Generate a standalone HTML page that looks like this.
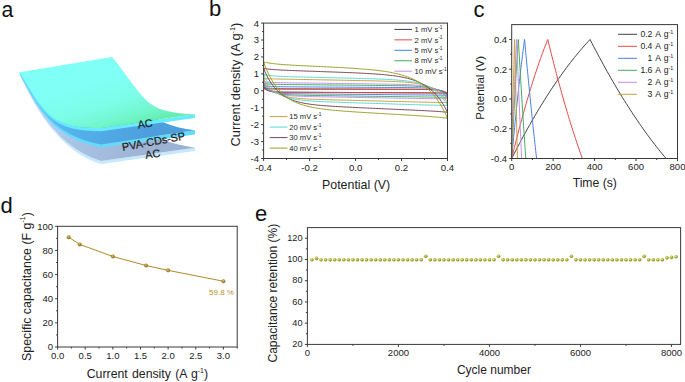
<!DOCTYPE html>
<html><head><meta charset="utf-8"><style>
html,body{margin:0;padding:0;background:#fff;}
svg{display:block;}
text{font-family:"Liberation Sans", sans-serif;}
</style></head><body>
<svg width="685" height="382" viewBox="0 0 685 382" shape-rendering="auto">
<rect width="685" height="382" fill="#fff"/>
<defs>
<linearGradient id="topg" gradientUnits="userSpaceOnUse" x1="95" y1="80" x2="110" y2="132">
 <stop offset="0" stop-color="#80fff6"/><stop offset="0.5" stop-color="#7cfde8"/><stop offset="0.82" stop-color="#72f6cc"/><stop offset="1" stop-color="#66eeb2"/></linearGradient>
<linearGradient id="midg" gradientUnits="userSpaceOnUse" x1="40" y1="100" x2="150" y2="140">
 <stop offset="0" stop-color="#58c6f8"/><stop offset="0.4" stop-color="#54b0ea"/><stop offset="1" stop-color="#4c9edc"/></linearGradient>
<linearGradient id="botg" gradientUnits="userSpaceOnUse" x1="40" y1="110" x2="150" y2="155">
 <stop offset="0" stop-color="#b8d4f6"/><stop offset="0.4" stop-color="#a8c2e4"/><stop offset="1" stop-color="#9cb2d2"/></linearGradient>
</defs><path d="M19.5,74.3 C25,84 50.3,149.1 101,164 L195,151.1 L195,147.8 L101,161.1 C48.8,144.6 28,89.4 19.5,74 Z" fill="#c6e8fc"/><path d="M19.5,74 L112,62 C130,95 145,128 157,138.1 C170,143 183,146 195,147.8 L101,161.1 C48.8,144.6 28,89.4 19.5,74 Z" fill="url(#botg)"/><path d="M19.5,73.8 C37.5,108 52,138 101,147.4 L195,134.5 L195,130.2 L101,144.5 C52,135.2 37.8,106.6 19.5,73.5 Z" fill="#62dcfd"/><path d="M19.5,73.5 L112,60 C130,88 145,112 162.5,122 C172,126 183,129 195,130.2 L101,144.5 C52,135.2 37.8,106.6 19.5,73.5 Z" fill="url(#midg)"/><path d="M19.5,73 C44.5,117.2 53.5,130.9 101,131.3 L195,118 L195,114.3 L101,127.9 C51.9,129 44.4,113.9 19.5,72.3 Z" fill="#68eaff"/><path d="M19.5,72.3 L112,57 C122,68 134,88 146,100 C156,109 166,113 195,114.3 L101,127.9 C51.9,129 44.4,113.9 19.5,72.3 Z" fill="url(#topg)"/><text transform="translate(145.6,127.5) rotate(-8.5)" font-size="10.8" text-anchor="middle" fill="#1e1e1e" stroke="#1e1e1e" stroke-width="0.25">AC</text><text transform="translate(154.2,145.2) rotate(-10.5)" font-size="10.9" text-anchor="middle" fill="#1e1e1e" stroke="#1e1e1e" stroke-width="0.25">PVA-CDs-SP</text><text transform="translate(153.2,157.6) rotate(-8.5)" font-size="10.8" text-anchor="middle" fill="#1e1e1e" stroke="#1e1e1e" stroke-width="0.25">AC</text>
<text x="1.60" y="16.80" font-size="21.2" text-anchor="start" fill="#111" >a</text>
<text x="209.00" y="16.20" font-size="22" text-anchor="start" fill="#111" >b</text>
<text x="473.40" y="16.80" font-size="22" text-anchor="start" fill="#111" >c</text>
<text x="0.50" y="212.80" font-size="22" text-anchor="start" fill="#111" >d</text>
<text x="255.00" y="221.20" font-size="22" text-anchor="start" fill="#111" >e</text>
<g fill="none" stroke-width="1">
<path d="M263.60,88.09 L265.13,88.30 L266.67,88.46 L268.20,88.57 L269.73,88.65 L271.26,88.71 L272.80,88.75 L274.33,88.79 L275.86,88.81 L277.39,88.83 L278.93,88.84 L280.46,88.86 L281.99,88.87 L283.52,88.88 L285.06,88.88 L286.59,88.89 L288.12,88.90 L289.65,88.90 L291.19,88.91 L292.72,88.91 L294.25,88.92 L295.78,88.92 L297.31,88.93 L298.85,88.93 L300.38,88.94 L301.91,88.94 L303.45,88.95 L304.98,88.95 L306.51,88.96 L308.04,88.96 L309.58,88.97 L311.11,88.97 L312.64,88.97 L314.17,88.98 L315.71,88.98 L317.24,88.99 L318.77,88.99 L320.30,89.00 L321.84,89.00 L323.37,89.01 L324.90,89.01 L326.43,89.02 L327.97,89.02 L329.50,89.03 L331.03,89.03 L332.56,89.04 L334.10,89.04 L335.63,89.05 L337.16,89.05 L338.69,89.06 L340.23,89.06 L341.76,89.06 L343.29,89.07 L344.82,89.07 L346.36,89.08 L347.89,89.08 L349.42,89.09 L350.95,89.09 L352.49,89.10 L354.02,89.10 L355.55,89.11 L357.08,89.11 L358.62,89.12 L360.15,89.12 L361.68,89.13 L363.21,89.13 L364.75,89.14 L366.28,89.14 L367.81,89.15 L369.34,89.15 L370.88,89.15 L372.41,89.16 L373.94,89.16 L375.47,89.17 L377.00,89.17 L378.54,89.18 L380.07,89.18 L381.60,89.19 L383.13,89.19 L384.67,89.20 L386.20,89.20 L387.73,89.21 L389.26,89.21 L390.80,89.22 L392.33,89.22 L393.86,89.23 L395.39,89.23 L396.93,89.24 L398.46,89.24 L399.99,89.25 L401.52,89.25 L403.06,89.26 L404.59,89.26 L406.12,89.27 L407.65,89.27 L409.19,89.28 L410.72,89.28 L412.25,89.29 L413.79,89.30 L415.32,89.31 L416.85,89.32 L418.38,89.33 L419.91,89.34 L421.45,89.36 L422.98,89.37 L424.51,89.40 L426.05,89.42 L427.58,89.46 L429.11,89.50 L430.64,89.56 L432.17,89.63 L433.71,89.72 L435.24,89.84 L436.77,90.00 L438.31,90.19 L439.84,90.45 L441.37,90.79 L442.90,91.23 L444.44,91.80 L445.97,92.54 L447.50,93.51 L447.50,93.51 L445.97,93.33 L444.44,93.20 L442.90,93.10 L441.37,93.03 L439.84,92.98 L438.31,92.94 L436.77,92.91 L435.24,92.89 L433.71,92.87 L432.18,92.85 L430.64,92.84 L429.11,92.83 L427.58,92.82 L426.05,92.81 L424.51,92.80 L422.98,92.79 L421.45,92.79 L419.91,92.78 L418.38,92.77 L416.85,92.76 L415.32,92.76 L413.78,92.75 L412.25,92.74 L410.72,92.74 L409.19,92.73 L407.65,92.72 L406.12,92.72 L404.59,92.71 L403.06,92.70 L401.53,92.70 L399.99,92.69 L398.46,92.68 L396.93,92.68 L395.39,92.67 L393.86,92.66 L392.33,92.65 L390.80,92.65 L389.26,92.64 L387.73,92.63 L386.20,92.63 L384.67,92.62 L383.13,92.61 L381.60,92.61 L380.07,92.60 L378.54,92.59 L377.00,92.59 L375.47,92.58 L373.94,92.57 L372.41,92.57 L370.88,92.56 L369.34,92.55 L367.81,92.55 L366.28,92.54 L364.75,92.53 L363.21,92.53 L361.68,92.52 L360.15,92.51 L358.62,92.51 L357.08,92.50 L355.55,92.49 L354.02,92.49 L352.49,92.48 L350.95,92.47 L349.42,92.47 L347.89,92.46 L346.36,92.45 L344.82,92.45 L343.29,92.44 L341.76,92.43 L340.23,92.42 L338.69,92.42 L337.16,92.41 L335.63,92.40 L334.10,92.40 L332.56,92.39 L331.03,92.38 L329.50,92.38 L327.97,92.37 L326.43,92.36 L324.90,92.36 L323.37,92.35 L321.83,92.34 L320.30,92.34 L318.77,92.33 L317.24,92.32 L315.71,92.32 L314.17,92.31 L312.64,92.30 L311.11,92.30 L309.58,92.29 L308.04,92.28 L306.51,92.28 L304.98,92.27 L303.45,92.26 L301.91,92.25 L300.38,92.25 L298.85,92.24 L297.31,92.23 L295.78,92.22 L294.25,92.22 L292.72,92.21 L291.19,92.20 L289.65,92.19 L288.12,92.18 L286.59,92.16 L285.06,92.14 L283.52,92.12 L281.99,92.09 L280.46,92.06 L278.93,92.01 L277.39,91.95 L275.86,91.86 L274.33,91.75 L272.80,91.59 L271.26,91.37 L269.73,91.06 L268.20,90.64 L266.67,90.05 L265.13,89.23 L263.60,88.09" stroke="#3a3a4a"/>
<path d="M263.60,87.25 L265.13,87.75 L266.67,88.12 L268.20,88.38 L269.73,88.57 L271.26,88.71 L272.80,88.81 L274.33,88.88 L275.86,88.93 L277.39,88.97 L278.93,89.00 L280.46,89.02 L281.99,89.04 L283.52,89.05 L285.06,89.06 L286.59,89.07 L288.12,89.08 L289.65,89.09 L291.19,89.09 L292.72,89.10 L294.25,89.10 L295.78,89.11 L297.31,89.11 L298.85,89.12 L300.38,89.12 L301.91,89.13 L303.45,89.13 L304.98,89.14 L306.51,89.14 L308.04,89.14 L309.58,89.15 L311.11,89.15 L312.64,89.16 L314.17,89.16 L315.71,89.17 L317.24,89.17 L318.77,89.17 L320.30,89.18 L321.84,89.18 L323.37,89.19 L324.90,89.19 L326.43,89.20 L327.97,89.20 L329.50,89.20 L331.03,89.21 L332.56,89.21 L334.10,89.22 L335.63,89.22 L337.16,89.23 L338.69,89.23 L340.23,89.23 L341.76,89.24 L343.29,89.24 L344.82,89.25 L346.36,89.25 L347.89,89.26 L349.42,89.26 L350.95,89.26 L352.49,89.27 L354.02,89.27 L355.55,89.28 L357.08,89.28 L358.62,89.29 L360.15,89.29 L361.68,89.29 L363.21,89.30 L364.75,89.30 L366.28,89.31 L367.81,89.31 L369.34,89.32 L370.88,89.32 L372.41,89.32 L373.94,89.33 L375.47,89.33 L377.00,89.34 L378.54,89.34 L380.07,89.35 L381.60,89.35 L383.13,89.35 L384.67,89.36 L386.20,89.36 L387.73,89.37 L389.26,89.37 L390.80,89.38 L392.33,89.38 L393.86,89.38 L395.39,89.39 L396.93,89.39 L398.46,89.40 L399.99,89.40 L401.52,89.41 L403.06,89.41 L404.59,89.42 L406.12,89.42 L407.65,89.43 L409.19,89.43 L410.72,89.44 L412.25,89.44 L413.79,89.45 L415.32,89.46 L416.85,89.46 L418.38,89.47 L419.91,89.48 L421.45,89.50 L422.98,89.51 L424.51,89.53 L426.05,89.56 L427.58,89.59 L429.11,89.62 L430.64,89.67 L432.17,89.73 L433.71,89.81 L435.24,89.91 L436.77,90.04 L438.31,90.21 L439.84,90.43 L441.37,90.71 L442.90,91.08 L444.44,91.56 L445.97,92.18 L447.50,93.00 L447.50,93.00 L445.97,93.02 L444.44,93.04 L442.90,93.05 L441.37,93.05 L439.84,93.05 L438.31,93.05 L436.77,93.05 L435.24,93.04 L433.71,93.04 L432.18,93.03 L430.64,93.02 L429.11,93.02 L427.58,93.01 L426.05,93.00 L424.51,93.00 L422.98,92.99 L421.45,92.98 L419.91,92.97 L418.38,92.97 L416.85,92.96 L415.32,92.95 L413.78,92.94 L412.25,92.94 L410.72,92.93 L409.19,92.92 L407.65,92.91 L406.12,92.91 L404.59,92.90 L403.06,92.89 L401.53,92.89 L399.99,92.88 L398.46,92.87 L396.93,92.86 L395.39,92.86 L393.86,92.85 L392.33,92.84 L390.80,92.83 L389.26,92.83 L387.73,92.82 L386.20,92.81 L384.67,92.80 L383.13,92.80 L381.60,92.79 L380.07,92.78 L378.54,92.77 L377.00,92.77 L375.47,92.76 L373.94,92.75 L372.41,92.74 L370.88,92.74 L369.34,92.73 L367.81,92.72 L366.28,92.71 L364.75,92.71 L363.21,92.70 L361.68,92.69 L360.15,92.68 L358.62,92.68 L357.08,92.67 L355.55,92.66 L354.02,92.65 L352.49,92.65 L350.95,92.64 L349.42,92.63 L347.89,92.62 L346.36,92.62 L344.82,92.61 L343.29,92.60 L341.76,92.59 L340.23,92.59 L338.69,92.58 L337.16,92.57 L335.63,92.56 L334.10,92.56 L332.56,92.55 L331.03,92.54 L329.50,92.54 L327.97,92.53 L326.43,92.52 L324.90,92.51 L323.37,92.51 L321.83,92.50 L320.30,92.49 L318.77,92.48 L317.24,92.48 L315.71,92.47 L314.17,92.46 L312.64,92.45 L311.11,92.45 L309.58,92.44 L308.04,92.43 L306.51,92.42 L304.98,92.42 L303.45,92.41 L301.91,92.40 L300.38,92.39 L298.85,92.38 L297.31,92.38 L295.78,92.37 L294.25,92.36 L292.72,92.35 L291.19,92.34 L289.65,92.32 L288.12,92.31 L286.59,92.29 L285.06,92.27 L283.52,92.25 L281.99,92.21 L280.46,92.17 L278.93,92.11 L277.39,92.03 L275.86,91.93 L274.33,91.79 L272.80,91.59 L271.26,91.31 L269.73,90.93 L268.20,90.41 L266.67,89.68 L265.13,88.66 L263.60,87.25" stroke="#e84a46"/>
<path d="M263.60,85.55 L265.13,85.87 L266.67,86.11 L268.20,86.28 L269.73,86.40 L271.26,86.49 L272.80,86.56 L274.33,86.61 L275.86,86.65 L277.39,86.68 L278.93,86.71 L280.46,86.73 L281.99,86.75 L283.52,86.76 L285.06,86.78 L286.59,86.79 L288.12,86.80 L289.65,86.81 L291.19,86.83 L292.72,86.84 L294.25,86.85 L295.78,86.86 L297.31,86.87 L298.85,86.88 L300.38,86.89 L301.91,86.90 L303.45,86.91 L304.98,86.92 L306.51,86.93 L308.04,86.94 L309.58,86.95 L311.11,86.96 L312.64,86.97 L314.17,86.98 L315.71,86.99 L317.24,87.00 L318.77,87.01 L320.30,87.02 L321.84,87.03 L323.37,87.04 L324.90,87.05 L326.43,87.06 L327.97,87.07 L329.50,87.08 L331.03,87.09 L332.56,87.10 L334.10,87.11 L335.63,87.12 L337.16,87.13 L338.69,87.14 L340.23,87.15 L341.76,87.16 L343.29,87.17 L344.82,87.18 L346.36,87.19 L347.89,87.20 L349.42,87.21 L350.95,87.22 L352.49,87.23 L354.02,87.24 L355.55,87.25 L357.08,87.26 L358.62,87.27 L360.15,87.28 L361.68,87.29 L363.21,87.30 L364.75,87.31 L366.28,87.32 L367.81,87.33 L369.34,87.34 L370.88,87.35 L372.41,87.36 L373.94,87.37 L375.47,87.38 L377.00,87.39 L378.54,87.40 L380.07,87.41 L381.60,87.42 L383.13,87.43 L384.67,87.44 L386.20,87.45 L387.73,87.46 L389.26,87.47 L390.80,87.48 L392.33,87.49 L393.86,87.50 L395.39,87.51 L396.93,87.52 L398.46,87.53 L399.99,87.55 L401.52,87.56 L403.06,87.57 L404.59,87.59 L406.12,87.60 L407.65,87.62 L409.19,87.63 L410.72,87.65 L412.25,87.67 L413.79,87.70 L415.32,87.72 L416.85,87.76 L418.38,87.79 L419.91,87.83 L421.45,87.88 L422.98,87.94 L424.51,88.01 L426.05,88.10 L427.58,88.20 L429.11,88.32 L430.64,88.47 L432.17,88.65 L433.71,88.87 L435.24,89.14 L436.77,89.47 L438.31,89.88 L439.84,90.37 L441.37,90.99 L442.90,91.74 L444.44,92.66 L445.97,93.80 L447.50,95.20 L447.50,95.20 L445.97,95.19 L444.44,95.18 L442.90,95.16 L441.37,95.15 L439.84,95.13 L438.31,95.12 L436.77,95.11 L435.24,95.09 L433.71,95.08 L432.18,95.06 L430.64,95.05 L429.11,95.04 L427.58,95.02 L426.05,95.01 L424.51,94.99 L422.98,94.98 L421.45,94.97 L419.91,94.95 L418.38,94.94 L416.85,94.92 L415.32,94.91 L413.78,94.89 L412.25,94.88 L410.72,94.87 L409.19,94.85 L407.65,94.84 L406.12,94.82 L404.59,94.81 L403.06,94.79 L401.53,94.78 L399.99,94.77 L398.46,94.75 L396.93,94.74 L395.39,94.72 L393.86,94.71 L392.33,94.70 L390.80,94.68 L389.26,94.67 L387.73,94.65 L386.20,94.64 L384.67,94.62 L383.13,94.61 L381.60,94.60 L380.07,94.58 L378.54,94.57 L377.00,94.55 L375.47,94.54 L373.94,94.52 L372.41,94.51 L370.88,94.50 L369.34,94.48 L367.81,94.47 L366.28,94.45 L364.75,94.44 L363.21,94.43 L361.68,94.41 L360.15,94.40 L358.62,94.38 L357.08,94.37 L355.55,94.35 L354.02,94.34 L352.49,94.33 L350.95,94.31 L349.42,94.30 L347.89,94.28 L346.36,94.27 L344.82,94.25 L343.29,94.24 L341.76,94.23 L340.23,94.21 L338.69,94.20 L337.16,94.18 L335.63,94.17 L334.10,94.16 L332.56,94.14 L331.03,94.13 L329.50,94.11 L327.97,94.10 L326.43,94.08 L324.90,94.07 L323.37,94.06 L321.83,94.04 L320.30,94.03 L318.77,94.01 L317.24,94.00 L315.71,93.98 L314.17,93.97 L312.64,93.95 L311.11,93.94 L309.58,93.92 L308.04,93.91 L306.51,93.89 L304.98,93.88 L303.45,93.86 L301.91,93.85 L300.38,93.83 L298.85,93.81 L297.31,93.79 L295.78,93.77 L294.25,93.74 L292.72,93.72 L291.19,93.69 L289.65,93.65 L288.12,93.61 L286.59,93.56 L285.06,93.50 L283.52,93.42 L281.99,93.33 L280.46,93.21 L278.93,93.06 L277.39,92.88 L275.86,92.64 L274.33,92.33 L272.80,91.94 L271.26,91.43 L269.73,90.77 L268.20,89.92 L266.67,88.82 L265.13,87.40 L263.60,85.55" stroke="#4a80e0"/>
<path d="M263.60,83.35 L265.13,83.61 L266.67,83.80 L268.20,83.95 L269.73,84.06 L271.26,84.15 L272.80,84.22 L274.33,84.27 L275.86,84.32 L277.39,84.35 L278.93,84.39 L280.46,84.41 L281.99,84.44 L283.52,84.46 L285.06,84.48 L286.59,84.50 L288.12,84.52 L289.65,84.54 L291.19,84.55 L292.72,84.57 L294.25,84.59 L295.78,84.60 L297.31,84.62 L298.85,84.64 L300.38,84.65 L301.91,84.67 L303.45,84.68 L304.98,84.70 L306.51,84.71 L308.04,84.73 L309.58,84.75 L311.11,84.76 L312.64,84.78 L314.17,84.79 L315.71,84.81 L317.24,84.82 L318.77,84.84 L320.30,84.86 L321.84,84.87 L323.37,84.89 L324.90,84.90 L326.43,84.92 L327.97,84.93 L329.50,84.95 L331.03,84.96 L332.56,84.98 L334.10,85.00 L335.63,85.01 L337.16,85.03 L338.69,85.04 L340.23,85.06 L341.76,85.07 L343.29,85.09 L344.82,85.11 L346.36,85.12 L347.89,85.14 L349.42,85.15 L350.95,85.17 L352.49,85.18 L354.02,85.20 L355.55,85.22 L357.08,85.23 L358.62,85.25 L360.15,85.26 L361.68,85.28 L363.21,85.29 L364.75,85.31 L366.28,85.33 L367.81,85.34 L369.34,85.36 L370.88,85.37 L372.41,85.39 L373.94,85.41 L375.47,85.42 L377.00,85.44 L378.54,85.46 L380.07,85.47 L381.60,85.49 L383.13,85.51 L384.67,85.52 L386.20,85.54 L387.73,85.56 L389.26,85.58 L390.80,85.60 L392.33,85.62 L393.86,85.64 L395.39,85.66 L396.93,85.68 L398.46,85.71 L399.99,85.73 L401.52,85.76 L403.06,85.79 L404.59,85.82 L406.12,85.86 L407.65,85.90 L409.19,85.94 L410.72,85.99 L412.25,86.04 L413.79,86.10 L415.32,86.17 L416.85,86.25 L418.38,86.34 L419.91,86.44 L421.45,86.56 L422.98,86.70 L424.51,86.86 L426.05,87.04 L427.58,87.26 L429.11,87.51 L430.64,87.80 L432.17,88.14 L433.71,88.55 L435.24,89.02 L436.77,89.57 L438.31,90.22 L439.84,90.99 L441.37,91.89 L442.90,92.95 L444.44,94.20 L445.97,95.67 L447.50,97.40 L447.50,97.40 L445.97,97.36 L444.44,97.32 L442.90,97.29 L441.37,97.26 L439.84,97.23 L438.31,97.20 L436.77,97.18 L435.24,97.15 L433.71,97.13 L432.18,97.10 L430.64,97.08 L429.11,97.06 L427.58,97.04 L426.05,97.02 L424.51,96.99 L422.98,96.97 L421.45,96.95 L419.91,96.93 L418.38,96.91 L416.85,96.89 L415.32,96.87 L413.78,96.84 L412.25,96.82 L410.72,96.80 L409.19,96.78 L407.65,96.76 L406.12,96.74 L404.59,96.72 L403.06,96.70 L401.53,96.68 L399.99,96.66 L398.46,96.63 L396.93,96.61 L395.39,96.59 L393.86,96.57 L392.33,96.55 L390.80,96.53 L389.26,96.51 L387.73,96.49 L386.20,96.47 L384.67,96.45 L383.13,96.42 L381.60,96.40 L380.07,96.38 L378.54,96.36 L377.00,96.34 L375.47,96.32 L373.94,96.30 L372.41,96.28 L370.88,96.26 L369.34,96.24 L367.81,96.21 L366.28,96.19 L364.75,96.17 L363.21,96.15 L361.68,96.13 L360.15,96.11 L358.62,96.09 L357.08,96.07 L355.55,96.05 L354.02,96.03 L352.49,96.00 L350.95,95.98 L349.42,95.96 L347.89,95.94 L346.36,95.92 L344.82,95.90 L343.29,95.88 L341.76,95.86 L340.23,95.84 L338.69,95.82 L337.16,95.79 L335.63,95.77 L334.10,95.75 L332.56,95.73 L331.03,95.71 L329.50,95.69 L327.97,95.67 L326.43,95.65 L324.90,95.62 L323.37,95.60 L321.83,95.58 L320.30,95.56 L318.77,95.54 L317.24,95.51 L315.71,95.49 L314.17,95.47 L312.64,95.44 L311.11,95.42 L309.58,95.39 L308.04,95.37 L306.51,95.34 L304.98,95.31 L303.45,95.28 L301.91,95.25 L300.38,95.21 L298.85,95.17 L297.31,95.13 L295.78,95.08 L294.25,95.03 L292.72,94.96 L291.19,94.89 L289.65,94.81 L288.12,94.71 L286.59,94.59 L285.06,94.45 L283.52,94.29 L281.99,94.09 L280.46,93.85 L278.93,93.56 L277.39,93.20 L275.86,92.77 L274.33,92.25 L272.80,91.61 L271.26,90.83 L269.73,89.88 L268.20,88.71 L266.67,87.27 L265.13,85.51 L263.60,83.35" stroke="#3fae5e"/>
<path d="M263.60,81.66 L265.13,81.88 L266.67,82.05 L268.20,82.18 L269.73,82.29 L271.26,82.38 L272.80,82.45 L274.33,82.51 L275.86,82.56 L277.39,82.60 L278.93,82.64 L280.46,82.67 L281.99,82.70 L283.52,82.73 L285.06,82.76 L286.59,82.78 L288.12,82.80 L289.65,82.83 L291.19,82.85 L292.72,82.87 L294.25,82.89 L295.78,82.91 L297.31,82.93 L298.85,82.95 L300.38,82.97 L301.91,82.99 L303.45,83.01 L304.98,83.03 L306.51,83.05 L308.04,83.07 L309.58,83.09 L311.11,83.11 L312.64,83.13 L314.17,83.15 L315.71,83.17 L317.24,83.19 L318.77,83.21 L320.30,83.23 L321.84,83.25 L323.37,83.27 L324.90,83.29 L326.43,83.31 L327.97,83.33 L329.50,83.35 L331.03,83.37 L332.56,83.39 L334.10,83.41 L335.63,83.43 L337.16,83.45 L338.69,83.47 L340.23,83.49 L341.76,83.51 L343.29,83.53 L344.82,83.55 L346.36,83.57 L347.89,83.59 L349.42,83.61 L350.95,83.63 L352.49,83.65 L354.02,83.67 L355.55,83.69 L357.08,83.71 L358.62,83.73 L360.15,83.75 L361.68,83.77 L363.21,83.80 L364.75,83.82 L366.28,83.84 L367.81,83.86 L369.34,83.88 L370.88,83.90 L372.41,83.92 L373.94,83.94 L375.47,83.96 L377.00,83.99 L378.54,84.01 L380.07,84.03 L381.60,84.05 L383.13,84.08 L384.67,84.10 L386.20,84.13 L387.73,84.15 L389.26,84.18 L390.80,84.21 L392.33,84.24 L393.86,84.27 L395.39,84.30 L396.93,84.33 L398.46,84.37 L399.99,84.41 L401.52,84.45 L403.06,84.50 L404.59,84.55 L406.12,84.60 L407.65,84.66 L409.19,84.73 L410.72,84.80 L412.25,84.89 L413.79,84.98 L415.32,85.09 L416.85,85.20 L418.38,85.34 L419.91,85.49 L421.45,85.66 L422.98,85.86 L424.51,86.09 L426.05,86.35 L427.58,86.65 L429.11,86.99 L430.64,87.39 L432.17,87.84 L433.71,88.36 L435.24,88.97 L436.77,89.66 L438.31,90.47 L439.84,91.40 L441.37,92.47 L442.90,93.72 L444.44,95.16 L445.97,96.83 L447.50,98.75 L447.50,98.75 L445.97,98.77 L444.44,98.78 L442.90,98.79 L441.37,98.78 L439.84,98.78 L438.31,98.77 L436.77,98.75 L435.24,98.73 L433.71,98.72 L432.18,98.70 L430.64,98.67 L429.11,98.65 L427.58,98.63 L426.05,98.61 L424.51,98.58 L422.98,98.56 L421.45,98.53 L419.91,98.51 L418.38,98.48 L416.85,98.45 L415.32,98.43 L413.78,98.40 L412.25,98.38 L410.72,98.35 L409.19,98.32 L407.65,98.30 L406.12,98.27 L404.59,98.25 L403.06,98.22 L401.53,98.19 L399.99,98.17 L398.46,98.14 L396.93,98.11 L395.39,98.09 L393.86,98.06 L392.33,98.03 L390.80,98.01 L389.26,97.98 L387.73,97.96 L386.20,97.93 L384.67,97.90 L383.13,97.88 L381.60,97.85 L380.07,97.82 L378.54,97.80 L377.00,97.77 L375.47,97.74 L373.94,97.72 L372.41,97.69 L370.88,97.66 L369.34,97.64 L367.81,97.61 L366.28,97.59 L364.75,97.56 L363.21,97.53 L361.68,97.51 L360.15,97.48 L358.62,97.45 L357.08,97.43 L355.55,97.40 L354.02,97.37 L352.49,97.35 L350.95,97.32 L349.42,97.29 L347.89,97.27 L346.36,97.24 L344.82,97.22 L343.29,97.19 L341.76,97.16 L340.23,97.14 L338.69,97.11 L337.16,97.08 L335.63,97.06 L334.10,97.03 L332.56,97.00 L331.03,96.97 L329.50,96.95 L327.97,96.92 L326.43,96.89 L324.90,96.86 L323.37,96.84 L321.83,96.81 L320.30,96.78 L318.77,96.75 L317.24,96.72 L315.71,96.69 L314.17,96.66 L312.64,96.62 L311.11,96.59 L309.58,96.55 L308.04,96.52 L306.51,96.48 L304.98,96.43 L303.45,96.39 L301.91,96.34 L300.38,96.28 L298.85,96.22 L297.31,96.16 L295.78,96.08 L294.25,96.00 L292.72,95.90 L291.19,95.79 L289.65,95.66 L288.12,95.51 L286.59,95.33 L285.06,95.13 L283.52,94.89 L281.99,94.60 L280.46,94.26 L278.93,93.86 L277.39,93.38 L275.86,92.81 L274.33,92.13 L272.80,91.31 L271.26,90.34 L269.73,89.17 L268.20,87.77 L266.67,86.09 L265.13,84.08 L263.60,81.66" stroke="#c48fe8"/>
<path d="M263.60,78.61 L265.13,78.67 L266.67,78.72 L268.20,78.76 L269.73,78.80 L271.26,78.84 L272.80,78.88 L274.33,78.92 L275.86,78.95 L277.39,78.98 L278.93,79.02 L280.46,79.05 L281.99,79.08 L283.52,79.11 L285.06,79.14 L286.59,79.17 L288.12,79.20 L289.65,79.23 L291.19,79.26 L292.72,79.29 L294.25,79.32 L295.78,79.35 L297.31,79.38 L298.85,79.41 L300.38,79.43 L301.91,79.46 L303.45,79.49 L304.98,79.52 L306.51,79.55 L308.04,79.58 L309.58,79.61 L311.11,79.64 L312.64,79.67 L314.17,79.70 L315.71,79.72 L317.24,79.75 L318.77,79.78 L320.30,79.81 L321.84,79.84 L323.37,79.87 L324.90,79.90 L326.43,79.93 L327.97,79.96 L329.50,79.99 L331.03,80.02 L332.56,80.04 L334.10,80.07 L335.63,80.10 L337.16,80.13 L338.69,80.16 L340.23,80.19 L341.76,80.22 L343.29,80.25 L344.82,80.28 L346.36,80.31 L347.89,80.34 L349.42,80.37 L350.95,80.40 L352.49,80.43 L354.02,80.46 L355.55,80.49 L357.08,80.52 L358.62,80.55 L360.15,80.58 L361.68,80.61 L363.21,80.65 L364.75,80.68 L366.28,80.71 L367.81,80.74 L369.34,80.78 L370.88,80.81 L372.41,80.85 L373.94,80.88 L375.47,80.92 L377.00,80.96 L378.54,81.00 L380.07,81.04 L381.60,81.08 L383.13,81.12 L384.67,81.17 L386.20,81.21 L387.73,81.26 L389.26,81.32 L390.80,81.37 L392.33,81.43 L393.86,81.49 L395.39,81.56 L396.93,81.63 L398.46,81.71 L399.99,81.79 L401.52,81.88 L403.06,81.98 L404.59,82.09 L406.12,82.20 L407.65,82.33 L409.19,82.47 L410.72,82.63 L412.25,82.80 L413.79,82.99 L415.32,83.20 L416.85,83.44 L418.38,83.70 L419.91,83.99 L421.45,84.31 L422.98,84.67 L424.51,85.08 L426.05,85.53 L427.58,86.04 L429.11,86.61 L430.64,87.25 L432.17,87.97 L433.71,88.77 L435.24,89.68 L436.77,90.70 L438.31,91.85 L439.84,93.14 L441.37,94.59 L442.90,96.22 L444.44,98.07 L445.97,100.14 L447.50,102.48 L447.50,102.48 L445.97,102.49 L444.44,102.49 L442.90,102.48 L441.37,102.47 L439.84,102.45 L438.31,102.44 L436.77,102.41 L435.24,102.39 L433.71,102.36 L432.18,102.33 L430.64,102.30 L429.11,102.27 L427.58,102.23 L426.05,102.20 L424.51,102.17 L422.98,102.13 L421.45,102.09 L419.91,102.06 L418.38,102.02 L416.85,101.98 L415.32,101.95 L413.78,101.91 L412.25,101.87 L410.72,101.83 L409.19,101.79 L407.65,101.76 L406.12,101.72 L404.59,101.68 L403.06,101.64 L401.53,101.60 L399.99,101.57 L398.46,101.53 L396.93,101.49 L395.39,101.45 L393.86,101.41 L392.33,101.37 L390.80,101.33 L389.26,101.30 L387.73,101.26 L386.20,101.22 L384.67,101.18 L383.13,101.14 L381.60,101.10 L380.07,101.06 L378.54,101.03 L377.00,100.99 L375.47,100.95 L373.94,100.91 L372.41,100.87 L370.88,100.83 L369.34,100.79 L367.81,100.76 L366.28,100.72 L364.75,100.68 L363.21,100.64 L361.68,100.60 L360.15,100.56 L358.62,100.52 L357.08,100.48 L355.55,100.45 L354.02,100.41 L352.49,100.37 L350.95,100.33 L349.42,100.29 L347.89,100.25 L346.36,100.21 L344.82,100.17 L343.29,100.13 L341.76,100.09 L340.23,100.05 L338.69,100.01 L337.16,99.97 L335.63,99.93 L334.10,99.89 L332.56,99.85 L331.03,99.80 L329.50,99.76 L327.97,99.72 L326.43,99.67 L324.90,99.63 L323.37,99.58 L321.83,99.54 L320.30,99.49 L318.77,99.44 L317.24,99.38 L315.71,99.33 L314.17,99.27 L312.64,99.21 L311.11,99.15 L309.58,99.08 L308.04,99.01 L306.51,98.93 L304.98,98.84 L303.45,98.75 L301.91,98.65 L300.38,98.54 L298.85,98.42 L297.31,98.28 L295.78,98.13 L294.25,97.96 L292.72,97.76 L291.19,97.54 L289.65,97.29 L288.12,97.01 L286.59,96.69 L285.06,96.32 L283.52,95.90 L281.99,95.41 L280.46,94.86 L278.93,94.21 L277.39,93.47 L275.86,92.62 L274.33,91.63 L272.80,90.49 L271.26,89.16 L269.73,87.63 L268.20,85.85 L266.67,83.78 L265.13,81.39 L263.60,78.61" stroke="#c9a040"/>
<path d="M263.60,74.55 L265.13,74.87 L266.67,75.13 L268.20,75.36 L269.73,75.55 L271.26,75.72 L272.80,75.86 L274.33,75.98 L275.86,76.09 L277.39,76.19 L278.93,76.28 L280.46,76.35 L281.99,76.42 L283.52,76.49 L285.06,76.55 L286.59,76.60 L288.12,76.65 L289.65,76.70 L291.19,76.75 L292.72,76.79 L294.25,76.84 L295.78,76.88 L297.31,76.92 L298.85,76.96 L300.38,77.00 L301.91,77.03 L303.45,77.07 L304.98,77.11 L306.51,77.15 L308.04,77.18 L309.58,77.22 L311.11,77.26 L312.64,77.29 L314.17,77.33 L315.71,77.36 L317.24,77.40 L318.77,77.44 L320.30,77.47 L321.84,77.51 L323.37,77.54 L324.90,77.58 L326.43,77.61 L327.97,77.65 L329.50,77.69 L331.03,77.72 L332.56,77.76 L334.10,77.79 L335.63,77.83 L337.16,77.87 L338.69,77.90 L340.23,77.94 L341.76,77.98 L343.29,78.01 L344.82,78.05 L346.36,78.09 L347.89,78.13 L349.42,78.17 L350.95,78.20 L352.49,78.24 L354.02,78.28 L355.55,78.32 L357.08,78.36 L358.62,78.40 L360.15,78.44 L361.68,78.49 L363.21,78.53 L364.75,78.57 L366.28,78.62 L367.81,78.66 L369.34,78.71 L370.88,78.76 L372.41,78.81 L373.94,78.86 L375.47,78.91 L377.00,78.97 L378.54,79.03 L380.07,79.09 L381.60,79.15 L383.13,79.21 L384.67,79.28 L386.20,79.36 L387.73,79.43 L389.26,79.51 L390.80,79.60 L392.33,79.69 L393.86,79.79 L395.39,79.90 L396.93,80.01 L398.46,80.13 L399.99,80.26 L401.52,80.41 L403.06,80.56 L404.59,80.73 L406.12,80.91 L407.65,81.11 L409.19,81.32 L410.72,81.56 L412.25,81.82 L413.79,82.10 L415.32,82.41 L416.85,82.75 L418.38,83.13 L419.91,83.54 L421.45,83.99 L422.98,84.49 L424.51,85.04 L426.05,85.65 L427.58,86.32 L429.11,87.06 L430.64,87.88 L432.17,88.79 L433.71,89.79 L435.24,90.90 L436.77,92.13 L438.31,93.49 L439.84,95.00 L441.37,96.67 L442.90,98.51 L444.44,100.56 L445.97,102.84 L447.50,105.36 L447.50,105.36 L445.97,105.36 L444.44,105.35 L442.90,105.34 L441.37,105.32 L439.84,105.30 L438.31,105.28 L436.77,105.25 L435.24,105.22 L433.71,105.18 L432.18,105.15 L430.64,105.11 L429.11,105.07 L427.58,105.03 L426.05,104.99 L424.51,104.95 L422.98,104.90 L421.45,104.86 L419.91,104.82 L418.38,104.77 L416.85,104.72 L415.32,104.68 L413.78,104.63 L412.25,104.59 L410.72,104.54 L409.19,104.49 L407.65,104.45 L406.12,104.40 L404.59,104.35 L403.06,104.30 L401.53,104.26 L399.99,104.21 L398.46,104.16 L396.93,104.11 L395.39,104.06 L393.86,104.02 L392.33,103.97 L390.80,103.92 L389.26,103.87 L387.73,103.82 L386.20,103.78 L384.67,103.73 L383.13,103.68 L381.60,103.63 L380.07,103.58 L378.54,103.54 L377.00,103.49 L375.47,103.44 L373.94,103.39 L372.41,103.34 L370.88,103.29 L369.34,103.25 L367.81,103.20 L366.28,103.15 L364.75,103.10 L363.21,103.05 L361.68,103.00 L360.15,102.95 L358.62,102.91 L357.08,102.86 L355.55,102.81 L354.02,102.76 L352.49,102.71 L350.95,102.66 L349.42,102.61 L347.89,102.56 L346.36,102.51 L344.82,102.46 L343.29,102.40 L341.76,102.35 L340.23,102.30 L338.69,102.25 L337.16,102.19 L335.63,102.14 L334.10,102.08 L332.56,102.03 L331.03,101.97 L329.50,101.91 L327.97,101.85 L326.43,101.79 L324.90,101.72 L323.37,101.65 L321.83,101.58 L320.30,101.51 L318.77,101.44 L317.24,101.36 L315.71,101.27 L314.17,101.18 L312.64,101.09 L311.11,100.98 L309.58,100.88 L308.04,100.76 L306.51,100.63 L304.98,100.49 L303.45,100.34 L301.91,100.17 L300.38,99.99 L298.85,99.79 L297.31,99.57 L295.78,99.32 L294.25,99.04 L292.72,98.74 L291.19,98.39 L289.65,98.01 L288.12,97.58 L286.59,97.09 L285.06,96.55 L283.52,95.93 L281.99,95.24 L280.46,94.45 L278.93,93.56 L277.39,92.55 L275.86,91.41 L274.33,90.12 L272.80,88.65 L271.26,86.99 L269.73,85.09 L268.20,82.94 L266.67,80.50 L265.13,77.72 L263.60,74.55" stroke="#55dcd8"/>
<path d="M263.60,68.46 L265.13,68.68 L266.67,68.88 L268.20,69.05 L269.73,69.21 L271.26,69.35 L272.80,69.48 L274.33,69.60 L275.86,69.71 L277.39,69.81 L278.93,69.90 L280.46,69.99 L281.99,70.07 L283.52,70.15 L285.06,70.22 L286.59,70.29 L288.12,70.36 L289.65,70.43 L291.19,70.49 L292.72,70.55 L294.25,70.61 L295.78,70.67 L297.31,70.73 L298.85,70.79 L300.38,70.85 L301.91,70.90 L303.45,70.96 L304.98,71.01 L306.51,71.07 L308.04,71.12 L309.58,71.17 L311.11,71.23 L312.64,71.28 L314.17,71.34 L315.71,71.39 L317.24,71.44 L318.77,71.50 L320.30,71.55 L321.84,71.60 L323.37,71.66 L324.90,71.71 L326.43,71.77 L327.97,71.82 L329.50,71.88 L331.03,71.93 L332.56,71.99 L334.10,72.04 L335.63,72.10 L337.16,72.16 L338.69,72.22 L340.23,72.27 L341.76,72.33 L343.29,72.39 L344.82,72.45 L346.36,72.51 L347.89,72.58 L349.42,72.64 L350.95,72.70 L352.49,72.77 L354.02,72.84 L355.55,72.91 L357.08,72.98 L358.62,73.05 L360.15,73.12 L361.68,73.20 L363.21,73.27 L364.75,73.36 L366.28,73.44 L367.81,73.52 L369.34,73.61 L370.88,73.71 L372.41,73.80 L373.94,73.90 L375.47,74.01 L377.00,74.12 L378.54,74.23 L380.07,74.35 L381.60,74.48 L383.13,74.61 L384.67,74.75 L386.20,74.90 L387.73,75.06 L389.26,75.22 L390.80,75.40 L392.33,75.59 L393.86,75.79 L395.39,76.00 L396.93,76.23 L398.46,76.48 L399.99,76.74 L401.52,77.02 L403.06,77.32 L404.59,77.65 L406.12,77.99 L407.65,78.37 L409.19,78.77 L410.72,79.21 L412.25,79.68 L413.79,80.19 L415.32,80.73 L416.85,81.33 L418.38,81.97 L419.91,82.66 L421.45,83.41 L422.98,84.23 L424.51,85.11 L426.05,86.06 L427.58,87.10 L429.11,88.22 L430.64,89.44 L432.17,90.77 L433.71,92.21 L435.24,93.77 L436.77,95.47 L438.31,97.31 L439.84,99.32 L441.37,101.50 L442.90,103.87 L444.44,106.44 L445.97,109.25 L447.50,112.29 L447.50,112.29 L445.97,112.14 L444.44,112.00 L442.90,111.86 L441.37,111.74 L439.84,111.62 L438.31,111.51 L436.77,111.40 L435.24,111.30 L433.71,111.20 L432.18,111.11 L430.64,111.01 L429.11,110.93 L427.58,110.84 L426.05,110.76 L424.51,110.68 L422.98,110.60 L421.45,110.52 L419.91,110.44 L418.38,110.37 L416.85,110.29 L415.32,110.22 L413.78,110.14 L412.25,110.07 L410.72,110.00 L409.19,109.93 L407.65,109.86 L406.12,109.79 L404.59,109.72 L403.06,109.65 L401.53,109.58 L399.99,109.51 L398.46,109.44 L396.93,109.37 L395.39,109.30 L393.86,109.24 L392.33,109.17 L390.80,109.10 L389.26,109.03 L387.73,108.96 L386.20,108.89 L384.67,108.83 L383.13,108.76 L381.60,108.69 L380.07,108.62 L378.54,108.55 L377.00,108.48 L375.47,108.41 L373.94,108.35 L372.41,108.28 L370.88,108.21 L369.34,108.14 L367.81,108.07 L366.28,108.00 L364.75,107.93 L363.21,107.86 L361.68,107.79 L360.15,107.72 L358.62,107.64 L357.08,107.57 L355.55,107.50 L354.02,107.43 L352.49,107.35 L350.95,107.28 L349.42,107.20 L347.89,107.12 L346.36,107.04 L344.82,106.97 L343.29,106.88 L341.76,106.80 L340.23,106.72 L338.69,106.63 L337.16,106.54 L335.63,106.45 L334.10,106.36 L332.56,106.27 L331.03,106.17 L329.50,106.06 L327.97,105.96 L326.43,105.84 L324.90,105.73 L323.37,105.61 L321.83,105.48 L320.30,105.34 L318.77,105.20 L317.24,105.05 L315.71,104.89 L314.17,104.72 L312.64,104.53 L311.11,104.34 L309.58,104.13 L308.04,103.90 L306.51,103.65 L304.98,103.39 L303.45,103.10 L301.91,102.79 L300.38,102.45 L298.85,102.08 L297.31,101.67 L295.78,101.23 L294.25,100.74 L292.72,100.21 L291.19,99.62 L289.65,98.98 L288.12,98.27 L286.59,97.48 L285.06,96.62 L283.52,95.67 L281.99,94.62 L280.46,93.45 L278.93,92.16 L277.39,90.74 L275.86,89.16 L274.33,87.41 L272.80,85.47 L271.26,83.32 L269.73,80.93 L268.20,78.28 L266.67,75.35 L265.13,72.08 L263.60,68.46" stroke="#7a4656"/>
<path d="M263.60,62.03 L265.13,62.36 L266.67,62.65 L268.20,62.91 L269.73,63.15 L271.26,63.37 L272.80,63.57 L274.33,63.75 L275.86,63.92 L277.39,64.07 L278.93,64.22 L280.46,64.35 L281.99,64.47 L283.52,64.59 L285.06,64.70 L286.59,64.81 L288.12,64.91 L289.65,65.01 L291.19,65.10 L292.72,65.19 L294.25,65.28 L295.78,65.36 L297.31,65.44 L298.85,65.52 L300.38,65.60 L301.91,65.68 L303.45,65.75 L304.98,65.83 L306.51,65.91 L308.04,65.98 L309.58,66.05 L311.11,66.13 L312.64,66.20 L314.17,66.27 L315.71,66.34 L317.24,66.42 L318.77,66.49 L320.30,66.56 L321.84,66.64 L323.37,66.71 L324.90,66.79 L326.43,66.86 L327.97,66.94 L329.50,67.01 L331.03,67.09 L332.56,67.17 L334.10,67.24 L335.63,67.32 L337.16,67.40 L338.69,67.49 L340.23,67.57 L341.76,67.65 L343.29,67.74 L344.82,67.83 L346.36,67.92 L347.89,68.01 L349.42,68.10 L350.95,68.19 L352.49,68.29 L354.02,68.39 L355.55,68.50 L357.08,68.60 L358.62,68.71 L360.15,68.82 L361.68,68.94 L363.21,69.06 L364.75,69.19 L366.28,69.31 L367.81,69.45 L369.34,69.59 L370.88,69.73 L372.41,69.89 L373.94,70.05 L375.47,70.21 L377.00,70.38 L378.54,70.57 L380.07,70.76 L381.60,70.96 L383.13,71.17 L384.67,71.39 L386.20,71.63 L387.73,71.88 L389.26,72.14 L390.80,72.42 L392.33,72.71 L393.86,73.02 L395.39,73.36 L396.93,73.71 L398.46,74.08 L399.99,74.48 L401.52,74.90 L403.06,75.35 L404.59,75.83 L406.12,76.35 L407.65,76.89 L409.19,77.48 L410.72,78.10 L412.25,78.77 L413.79,79.48 L415.32,80.25 L416.85,81.06 L418.38,81.94 L419.91,82.88 L421.45,83.88 L422.98,84.96 L424.51,86.11 L426.05,87.35 L427.58,88.68 L429.11,90.11 L430.64,91.64 L432.17,93.29 L433.71,95.05 L435.24,96.95 L436.77,98.99 L438.31,101.18 L439.84,103.53 L441.37,106.06 L442.90,108.78 L444.44,111.70 L445.97,114.84 L447.50,118.22 L447.50,118.22 L445.97,118.03 L444.44,117.85 L442.90,117.69 L441.37,117.53 L439.84,117.38 L438.31,117.23 L436.77,117.09 L435.24,116.96 L433.71,116.83 L432.18,116.71 L430.64,116.59 L429.11,116.47 L427.58,116.36 L426.05,116.25 L424.51,116.15 L422.98,116.04 L421.45,115.94 L419.91,115.84 L418.38,115.74 L416.85,115.64 L415.32,115.54 L413.78,115.45 L412.25,115.35 L410.72,115.26 L409.19,115.16 L407.65,115.07 L406.12,114.98 L404.59,114.89 L403.06,114.80 L401.53,114.71 L399.99,114.62 L398.46,114.53 L396.93,114.44 L395.39,114.35 L393.86,114.26 L392.33,114.17 L390.80,114.08 L389.26,113.99 L387.73,113.90 L386.20,113.82 L384.67,113.73 L383.13,113.64 L381.60,113.55 L380.07,113.46 L378.54,113.37 L377.00,113.28 L375.47,113.19 L373.94,113.10 L372.41,113.01 L370.88,112.91 L369.34,112.82 L367.81,112.73 L366.28,112.63 L364.75,112.54 L363.21,112.44 L361.68,112.35 L360.15,112.25 L358.62,112.15 L357.08,112.05 L355.55,111.95 L354.02,111.85 L352.49,111.75 L350.95,111.64 L349.42,111.53 L347.89,111.42 L346.36,111.31 L344.82,111.20 L343.29,111.08 L341.76,110.96 L340.23,110.83 L338.69,110.71 L337.16,110.57 L335.63,110.44 L334.10,110.30 L332.56,110.15 L331.03,110.00 L329.50,109.84 L327.97,109.67 L326.43,109.49 L324.90,109.31 L323.37,109.12 L321.83,108.92 L320.30,108.70 L318.77,108.47 L317.24,108.23 L315.71,107.98 L314.17,107.70 L312.64,107.41 L311.11,107.10 L309.58,106.77 L308.04,106.41 L306.51,106.03 L304.98,105.62 L303.45,105.17 L301.91,104.70 L300.38,104.18 L298.85,103.62 L297.31,103.02 L295.78,102.36 L294.25,101.65 L292.72,100.88 L291.19,100.05 L289.65,99.14 L288.12,98.15 L286.59,97.07 L285.06,95.90 L283.52,94.62 L281.99,93.22 L280.46,91.70 L278.93,90.04 L277.39,88.23 L275.86,86.25 L274.33,84.08 L272.80,81.71 L271.26,79.12 L269.73,76.29 L268.20,73.19 L266.67,69.80 L265.13,66.09 L263.60,62.03" stroke="#98a428"/>
</g>
<line x1="394.4" y1="29.40" x2="412.1" y2="29.40" stroke="#3a3a4a" stroke-width="1"/>
<text x="414.60" y="32.10" font-size="7.6" text-anchor="start" fill="#222" >1 mV s<tspan font-size="4.80" dy="-3.19">-1</tspan></text>
<line x1="394.4" y1="39.85" x2="412.1" y2="39.85" stroke="#e84a46" stroke-width="1"/>
<text x="414.60" y="42.55" font-size="7.6" text-anchor="start" fill="#222" >2 mV s<tspan font-size="4.80" dy="-3.19">-1</tspan></text>
<line x1="394.4" y1="50.30" x2="412.1" y2="50.30" stroke="#4a80e0" stroke-width="1"/>
<text x="414.60" y="53.00" font-size="7.6" text-anchor="start" fill="#222" >5 mV s<tspan font-size="4.80" dy="-3.19">-1</tspan></text>
<line x1="394.4" y1="60.75" x2="412.1" y2="60.75" stroke="#3fae5e" stroke-width="1"/>
<text x="414.60" y="63.45" font-size="7.6" text-anchor="start" fill="#222" >8 mV s<tspan font-size="4.80" dy="-3.19">-1</tspan></text>
<line x1="394.4" y1="71.20" x2="412.1" y2="71.20" stroke="#c48fe8" stroke-width="1"/>
<text x="414.60" y="73.90" font-size="7.6" text-anchor="start" fill="#222" >10 mV s<tspan font-size="4.80" dy="-3.19">-1</tspan></text>
<line x1="269.7" y1="116.60" x2="287.5" y2="116.60" stroke="#c9a040" stroke-width="1"/>
<text x="289.30" y="119.30" font-size="7.6" text-anchor="start" fill="#222" >15 mV s<tspan font-size="4.80" dy="-3.19">-1</tspan></text>
<line x1="269.7" y1="127.10" x2="287.5" y2="127.10" stroke="#55dcd8" stroke-width="1"/>
<text x="289.30" y="129.80" font-size="7.6" text-anchor="start" fill="#222" >20 mV s<tspan font-size="4.80" dy="-3.19">-1</tspan></text>
<line x1="269.7" y1="137.60" x2="287.5" y2="137.60" stroke="#7a4656" stroke-width="1"/>
<text x="289.30" y="140.30" font-size="7.6" text-anchor="start" fill="#222" >30 mV s<tspan font-size="4.80" dy="-3.19">-1</tspan></text>
<line x1="269.7" y1="148.10" x2="287.5" y2="148.10" stroke="#98a428" stroke-width="1"/>
<text x="289.30" y="150.80" font-size="7.6" text-anchor="start" fill="#222" >40 mV s<tspan font-size="4.80" dy="-3.19">-1</tspan></text>
<rect x="263.6" y="23.1" width="183.89999999999998" height="135.4" fill="none" stroke="#3a3a3a" stroke-width="1"/>
<line x1="261.1" y1="158.50" x2="263.6" y2="158.50" stroke="#3a3a3a"/>
<text x="259.00" y="161.90" font-size="9.5" text-anchor="end" fill="#222" >-4</text>
<line x1="261.1" y1="141.57" x2="263.6" y2="141.57" stroke="#3a3a3a"/>
<text x="259.00" y="144.97" font-size="9.5" text-anchor="end" fill="#222" >-3</text>
<line x1="261.1" y1="124.65" x2="263.6" y2="124.65" stroke="#3a3a3a"/>
<text x="259.00" y="128.05" font-size="9.5" text-anchor="end" fill="#222" >-2</text>
<line x1="261.1" y1="107.72" x2="263.6" y2="107.72" stroke="#3a3a3a"/>
<text x="259.00" y="111.12" font-size="9.5" text-anchor="end" fill="#222" >-1</text>
<line x1="261.1" y1="90.80" x2="263.6" y2="90.80" stroke="#3a3a3a"/>
<text x="259.00" y="94.20" font-size="9.5" text-anchor="end" fill="#222" >0</text>
<line x1="261.1" y1="73.88" x2="263.6" y2="73.88" stroke="#3a3a3a"/>
<text x="259.00" y="77.28" font-size="9.5" text-anchor="end" fill="#222" >1</text>
<line x1="261.1" y1="56.95" x2="263.6" y2="56.95" stroke="#3a3a3a"/>
<text x="259.00" y="60.35" font-size="9.5" text-anchor="end" fill="#222" >2</text>
<line x1="261.1" y1="40.02" x2="263.6" y2="40.02" stroke="#3a3a3a"/>
<text x="259.00" y="43.42" font-size="9.5" text-anchor="end" fill="#222" >3</text>
<line x1="261.1" y1="23.10" x2="263.6" y2="23.10" stroke="#3a3a3a"/>
<text x="259.00" y="26.50" font-size="9.5" text-anchor="end" fill="#222" >4</text>
<line x1="262.1" y1="150.04" x2="263.6" y2="150.04" stroke="#3a3a3a"/>
<line x1="262.1" y1="133.11" x2="263.6" y2="133.11" stroke="#3a3a3a"/>
<line x1="262.1" y1="116.19" x2="263.6" y2="116.19" stroke="#3a3a3a"/>
<line x1="262.1" y1="99.26" x2="263.6" y2="99.26" stroke="#3a3a3a"/>
<line x1="262.1" y1="82.34" x2="263.6" y2="82.34" stroke="#3a3a3a"/>
<line x1="262.1" y1="65.41" x2="263.6" y2="65.41" stroke="#3a3a3a"/>
<line x1="262.1" y1="48.49" x2="263.6" y2="48.49" stroke="#3a3a3a"/>
<line x1="262.1" y1="31.56" x2="263.6" y2="31.56" stroke="#3a3a3a"/>
<line x1="263.60" y1="158.5" x2="263.60" y2="161.0" stroke="#3a3a3a"/>
<text x="263.60" y="170.80" font-size="9.6" text-anchor="middle" fill="#222" >-0.4</text>
<line x1="309.58" y1="158.5" x2="309.58" y2="161.0" stroke="#3a3a3a"/>
<text x="309.58" y="170.80" font-size="9.6" text-anchor="middle" fill="#222" >-0.2</text>
<line x1="355.55" y1="158.5" x2="355.55" y2="161.0" stroke="#3a3a3a"/>
<text x="355.55" y="170.80" font-size="9.6" text-anchor="middle" fill="#222" >0.0</text>
<line x1="401.53" y1="158.5" x2="401.53" y2="161.0" stroke="#3a3a3a"/>
<text x="401.53" y="170.80" font-size="9.6" text-anchor="middle" fill="#222" >0.2</text>
<line x1="447.50" y1="158.5" x2="447.50" y2="161.0" stroke="#3a3a3a"/>
<text x="447.50" y="170.80" font-size="9.6" text-anchor="middle" fill="#222" >0.4</text>
<line x1="286.59" y1="158.5" x2="286.59" y2="160.0" stroke="#3a3a3a"/>
<line x1="332.56" y1="158.5" x2="332.56" y2="160.0" stroke="#3a3a3a"/>
<line x1="378.54" y1="158.5" x2="378.54" y2="160.0" stroke="#3a3a3a"/>
<line x1="424.51" y1="158.5" x2="424.51" y2="160.0" stroke="#3a3a3a"/>
<text x="356.10" y="188.60" font-size="12.4" text-anchor="middle" fill="#222" >Potential (V)</text>
<text transform="translate(240.4,84.6) rotate(-90)" font-size="12.8" text-anchor="middle" fill="#222">Current density (A g<tspan font-size="7.17" dy="-5.38">-1</tspan><tspan dy="5.38">)</tspan></text>
<g fill="none" stroke-width="1">
<path d="M511.70,158.50 L513.66,154.65 L515.62,150.85 L517.58,147.10 L519.53,143.38 L521.49,139.72 L523.45,136.09 L525.41,132.52 L527.37,128.98 L529.33,125.49 L531.29,122.05 L533.24,118.65 L535.20,115.29 L537.16,111.98 L539.12,108.72 L541.08,105.50 L543.04,102.32 L544.99,99.19 L546.95,96.10 L548.91,93.06 L550.87,90.06 L552.83,87.11 L554.79,84.20 L556.75,81.34 L558.70,78.52 L560.66,75.74 L562.62,73.01 L564.58,70.33 L566.54,67.69 L568.50,65.09 L570.46,62.54 L572.41,60.03 L574.37,57.57 L576.33,55.15 L578.29,52.78 L580.25,50.45 L582.21,48.17 L584.16,45.93 L586.12,43.73 L588.08,41.58 L590.04,39.48 L591.94,43.18 L593.84,46.84 L595.75,50.47 L597.65,54.06 L599.55,57.61 L601.45,61.12 L603.35,64.60 L605.25,68.04 L607.15,71.45 L609.06,74.81 L610.96,78.14 L612.86,81.43 L614.76,84.69 L616.66,87.90 L618.56,91.09 L620.46,94.23 L622.37,97.33 L624.27,100.40 L626.17,103.43 L628.07,106.43 L629.97,109.38 L631.87,112.30 L633.78,115.19 L635.68,118.03 L637.58,120.84 L639.48,123.61 L641.38,126.35 L643.28,129.04 L645.18,131.70 L647.09,134.32 L648.99,136.91 L650.89,139.46 L652.79,141.97 L654.69,144.44 L656.59,146.88 L658.50,149.28 L660.40,151.64 L662.30,153.96 L664.20,156.25 L666.10,158.50" stroke="#444444"/>
<path d="M511.70,158.50 L512.60,154.80 L513.50,151.14 L514.40,147.51 L515.31,143.92 L516.21,140.37 L517.11,136.85 L518.01,133.38 L518.91,129.93 L519.81,126.53 L520.72,123.17 L521.62,119.84 L522.52,116.54 L523.42,113.29 L524.32,110.07 L525.22,106.89 L526.12,103.75 L527.03,100.64 L527.93,97.58 L528.83,94.54 L529.73,91.55 L530.63,88.59 L531.53,85.67 L532.44,82.79 L533.34,79.95 L534.24,77.14 L535.14,74.37 L536.04,71.63 L536.94,68.94 L537.84,66.28 L538.75,63.65 L539.65,61.07 L540.55,58.52 L541.45,56.01 L542.35,53.54 L543.25,51.10 L544.16,48.70 L545.06,46.34 L545.96,44.02 L546.86,41.73 L547.76,39.48 L548.63,43.03 L549.49,46.56 L550.36,50.06 L551.22,53.52 L552.09,56.96 L552.95,60.37 L553.82,63.74 L554.68,67.09 L555.55,70.41 L556.41,73.70 L557.28,76.95 L558.14,80.18 L559.01,83.38 L559.88,86.55 L560.74,89.69 L561.61,92.80 L562.47,95.88 L563.34,98.93 L564.20,101.95 L565.07,104.94 L565.93,107.90 L566.80,110.83 L567.66,113.73 L568.53,116.60 L569.39,119.45 L570.26,122.26 L571.12,125.04 L571.99,127.79 L572.85,130.51 L573.72,133.21 L574.58,135.87 L575.45,138.50 L576.32,141.11 L577.18,143.68 L578.05,146.23 L578.91,148.74 L579.78,151.22 L580.64,153.68 L581.51,156.10 L582.37,158.50" stroke="#e84a46"/>
<path d="M511.70,158.50 L512.02,154.94 L512.34,151.42 L512.66,147.92 L512.98,144.46 L513.31,141.02 L513.63,137.61 L513.95,134.23 L514.27,130.89 L514.59,127.57 L514.91,124.28 L515.23,121.02 L515.55,117.79 L515.88,114.60 L516.20,111.43 L516.52,108.29 L516.84,105.18 L517.16,102.10 L517.48,99.05 L517.80,96.03 L518.12,93.04 L518.45,90.08 L518.77,87.15 L519.09,84.25 L519.41,81.37 L519.73,78.53 L520.05,75.72 L520.37,72.94 L520.69,70.19 L521.02,67.46 L521.34,64.77 L521.66,62.11 L521.98,59.47 L522.30,56.87 L522.62,54.30 L522.94,51.75 L523.26,49.24 L523.59,46.75 L523.91,44.30 L524.23,41.87 L524.55,39.48 L524.85,42.74 L525.15,45.99 L525.45,49.23 L525.75,52.45 L526.05,55.66 L526.35,58.85 L526.65,62.03 L526.95,65.19 L527.25,68.33 L527.55,71.46 L527.86,74.58 L528.16,77.68 L528.46,80.77 L528.76,83.84 L529.06,86.90 L529.36,89.94 L529.66,92.97 L529.96,95.98 L530.26,98.98 L530.56,101.96 L530.86,104.93 L531.16,107.89 L531.46,110.82 L531.76,113.75 L532.06,116.66 L532.36,119.55 L532.66,122.43 L532.96,125.29 L533.26,128.14 L533.56,130.98 L533.87,133.80 L534.17,136.60 L534.47,139.39 L534.77,142.16 L535.07,144.92 L535.37,147.67 L535.67,150.40 L535.97,153.11 L536.27,155.81 L536.57,158.50" stroke="#4a80e0"/>
<path d="M511.70,158.50 L511.87,154.94 L512.03,151.42 L512.20,147.92 L512.36,144.46 L512.53,141.02 L512.69,137.61 L512.86,134.23 L513.03,130.89 L513.19,127.57 L513.36,124.28 L513.52,121.02 L513.69,117.79 L513.86,114.60 L514.02,111.43 L514.19,108.29 L514.35,105.18 L514.52,102.10 L514.68,99.05 L514.85,96.03 L515.02,93.04 L515.18,90.08 L515.35,87.15 L515.51,84.25 L515.68,81.37 L515.85,78.53 L516.01,75.72 L516.18,72.94 L516.34,70.19 L516.51,67.46 L516.67,64.77 L516.84,62.11 L517.01,59.47 L517.17,56.87 L517.34,54.30 L517.50,51.75 L517.67,49.24 L517.83,46.75 L518.00,44.30 L518.17,41.87 L518.33,39.48 L518.52,42.74 L518.71,45.99 L518.89,49.23 L519.08,52.45 L519.26,55.66 L519.45,58.85 L519.64,62.03 L519.82,65.19 L520.01,68.33 L520.20,71.46 L520.38,74.58 L520.57,77.68 L520.76,80.77 L520.94,83.84 L521.13,86.90 L521.32,89.94 L521.50,92.97 L521.69,95.98 L521.88,98.98 L522.06,101.96 L522.25,104.93 L522.44,107.89 L522.62,110.82 L522.81,113.75 L523.00,116.66 L523.18,119.55 L523.37,122.43 L523.55,125.29 L523.74,128.14 L523.93,130.98 L524.11,133.80 L524.30,136.60 L524.49,139.39 L524.67,142.16 L524.86,144.92 L525.05,147.67 L525.23,150.40 L525.42,153.11 L525.61,155.81 L525.79,158.50" stroke="#3fae5e"/>
<path d="M511.70,158.50 L511.82,154.94 L511.95,151.42 L512.07,147.92 L512.20,144.46 L512.32,141.02 L512.45,137.61 L512.57,134.23 L512.69,130.89 L512.82,127.57 L512.94,124.28 L513.07,121.02 L513.19,117.79 L513.32,114.60 L513.44,111.43 L513.57,108.29 L513.69,105.18 L513.81,102.10 L513.94,99.05 L514.06,96.03 L514.19,93.04 L514.31,90.08 L514.44,87.15 L514.56,84.25 L514.68,81.37 L514.81,78.53 L514.93,75.72 L515.06,72.94 L515.18,70.19 L515.31,67.46 L515.43,64.77 L515.55,62.11 L515.68,59.47 L515.80,56.87 L515.93,54.30 L516.05,51.75 L516.18,49.24 L516.30,46.75 L516.43,44.30 L516.55,41.87 L516.67,39.48 L516.80,42.74 L516.92,45.99 L517.05,49.23 L517.17,52.45 L517.30,55.66 L517.42,58.85 L517.54,62.03 L517.67,65.19 L517.79,68.33 L517.92,71.46 L518.04,74.58 L518.17,77.68 L518.29,80.77 L518.41,83.84 L518.54,86.90 L518.66,89.94 L518.79,92.97 L518.91,95.98 L519.04,98.98 L519.16,101.96 L519.29,104.93 L519.41,107.89 L519.53,110.82 L519.66,113.75 L519.78,116.66 L519.91,119.55 L520.03,122.43 L520.16,125.29 L520.28,128.14 L520.40,130.98 L520.53,133.80 L520.65,136.60 L520.78,139.39 L520.90,142.16 L521.03,144.92 L521.15,147.67 L521.27,150.40 L521.40,153.11 L521.52,155.81 L521.65,158.50" stroke="#c48fe8"/>
<path d="M511.70,158.50 L511.77,154.94 L511.85,151.42 L511.92,147.92 L511.99,144.46 L512.06,141.02 L512.14,137.61 L512.21,134.23 L512.28,130.89 L512.35,127.57 L512.43,124.28 L512.50,121.02 L512.57,117.79 L512.64,114.60 L512.72,111.43 L512.79,108.29 L512.86,105.18 L512.93,102.10 L513.01,99.05 L513.08,96.03 L513.15,93.04 L513.22,90.08 L513.30,87.15 L513.37,84.25 L513.44,81.37 L513.51,78.53 L513.59,75.72 L513.66,72.94 L513.73,70.19 L513.80,67.46 L513.88,64.77 L513.95,62.11 L514.02,59.47 L514.09,56.87 L514.17,54.30 L514.24,51.75 L514.31,49.24 L514.38,46.75 L514.46,44.30 L514.53,41.87 L514.60,39.48 L514.67,42.74 L514.75,45.99 L514.82,49.23 L514.89,52.45 L514.96,55.66 L515.04,58.85 L515.11,62.03 L515.18,65.19 L515.25,68.33 L515.33,71.46 L515.40,74.58 L515.47,77.68 L515.54,80.77 L515.62,83.84 L515.69,86.90 L515.76,89.94 L515.83,92.97 L515.91,95.98 L515.98,98.98 L516.05,101.96 L516.12,104.93 L516.20,107.89 L516.27,110.82 L516.34,113.75 L516.41,116.66 L516.49,119.55 L516.56,122.43 L516.63,125.29 L516.71,128.14 L516.78,130.98 L516.85,133.80 L516.92,136.60 L517.00,139.39 L517.07,142.16 L517.14,144.92 L517.21,147.67 L517.29,150.40 L517.36,153.11 L517.43,155.81 L517.50,158.50" stroke="#c9a040"/>
</g>
<line x1="618" y1="34.30" x2="637" y2="34.30" stroke="#444444" stroke-width="1"/>
<text x="673.30" y="37.20" font-size="8.6" text-anchor="end" fill="#222" word-spacing="0.9">0.2 A g<tspan font-size="5.40" dy="-3.61">-1</tspan></text>
<line x1="618" y1="46.30" x2="637" y2="46.30" stroke="#e84a46" stroke-width="1"/>
<text x="673.30" y="49.20" font-size="8.6" text-anchor="end" fill="#222" word-spacing="0.9">0.4 A g<tspan font-size="5.40" dy="-3.61">-1</tspan></text>
<line x1="618" y1="58.30" x2="637" y2="58.30" stroke="#4a80e0" stroke-width="1"/>
<text x="673.30" y="61.20" font-size="8.6" text-anchor="end" fill="#222" word-spacing="0.9">1 A g<tspan font-size="5.40" dy="-3.61">-1</tspan></text>
<line x1="618" y1="70.30" x2="637" y2="70.30" stroke="#3fae5e" stroke-width="1"/>
<text x="673.30" y="73.20" font-size="8.6" text-anchor="end" fill="#222" word-spacing="0.9">1.6 A g<tspan font-size="5.40" dy="-3.61">-1</tspan></text>
<line x1="618" y1="82.30" x2="637" y2="82.30" stroke="#c48fe8" stroke-width="1"/>
<text x="673.30" y="85.20" font-size="8.6" text-anchor="end" fill="#222" word-spacing="0.9">2 A g<tspan font-size="5.40" dy="-3.61">-1</tspan></text>
<line x1="618" y1="94.30" x2="637" y2="94.30" stroke="#c9a040" stroke-width="1"/>
<text x="673.30" y="97.20" font-size="8.6" text-anchor="end" fill="#222" word-spacing="0.9">3 A g<tspan font-size="5.40" dy="-3.61">-1</tspan></text>
<rect x="511.7" y="24.6" width="165.8" height="133.9" fill="none" stroke="#3a3a3a" stroke-width="1"/>
<line x1="509.2" y1="158.50" x2="511.7" y2="158.50" stroke="#3a3a3a"/>
<text x="507.10" y="161.90" font-size="9.5" text-anchor="end" fill="#222" >-0.4</text>
<line x1="509.2" y1="128.74" x2="511.7" y2="128.74" stroke="#3a3a3a"/>
<text x="507.10" y="132.14" font-size="9.5" text-anchor="end" fill="#222" >-0.2</text>
<line x1="509.2" y1="98.99" x2="511.7" y2="98.99" stroke="#3a3a3a"/>
<text x="507.10" y="102.39" font-size="9.5" text-anchor="end" fill="#222" >0.0</text>
<line x1="509.2" y1="69.23" x2="511.7" y2="69.23" stroke="#3a3a3a"/>
<text x="507.10" y="72.63" font-size="9.5" text-anchor="end" fill="#222" >0.2</text>
<line x1="509.2" y1="39.48" x2="511.7" y2="39.48" stroke="#3a3a3a"/>
<text x="507.10" y="42.88" font-size="9.5" text-anchor="end" fill="#222" >0.4</text>
<line x1="510.2" y1="143.62" x2="511.7" y2="143.62" stroke="#3a3a3a"/>
<line x1="510.2" y1="113.87" x2="511.7" y2="113.87" stroke="#3a3a3a"/>
<line x1="510.2" y1="84.11" x2="511.7" y2="84.11" stroke="#3a3a3a"/>
<line x1="510.2" y1="54.36" x2="511.7" y2="54.36" stroke="#3a3a3a"/>
<line x1="511.70" y1="158.5" x2="511.70" y2="161.0" stroke="#3a3a3a"/>
<text x="511.70" y="169.50" font-size="9.5" text-anchor="middle" fill="#222" >0</text>
<line x1="553.15" y1="158.5" x2="553.15" y2="161.0" stroke="#3a3a3a"/>
<text x="553.15" y="169.50" font-size="9.5" text-anchor="middle" fill="#222" >200</text>
<line x1="594.60" y1="158.5" x2="594.60" y2="161.0" stroke="#3a3a3a"/>
<text x="594.60" y="169.50" font-size="9.5" text-anchor="middle" fill="#222" >400</text>
<line x1="636.05" y1="158.5" x2="636.05" y2="161.0" stroke="#3a3a3a"/>
<text x="636.05" y="169.50" font-size="9.5" text-anchor="middle" fill="#222" >600</text>
<line x1="677.50" y1="158.5" x2="677.50" y2="161.0" stroke="#3a3a3a"/>
<text x="677.50" y="169.50" font-size="9.5" text-anchor="middle" fill="#222" >800</text>
<line x1="532.42" y1="158.5" x2="532.42" y2="160.0" stroke="#3a3a3a"/>
<line x1="573.88" y1="158.5" x2="573.88" y2="160.0" stroke="#3a3a3a"/>
<line x1="615.33" y1="158.5" x2="615.33" y2="160.0" stroke="#3a3a3a"/>
<line x1="656.77" y1="158.5" x2="656.77" y2="160.0" stroke="#3a3a3a"/>
<text x="594.80" y="187.00" font-size="12.2" text-anchor="middle" fill="#222" >Time (s)</text>
<text transform="translate(483.5,87.8) rotate(-90)" font-size="11.6" text-anchor="middle" fill="#222">Potential (V)</text>
<defs><radialGradient id="dsph" cx="0.4" cy="0.35" r="0.7"><stop offset="0" stop-color="#e8d090"/><stop offset="0.5" stop-color="#b89030"/><stop offset="1" stop-color="#7a5a10"/></radialGradient></defs>
<path d="M68.65,237.16 L79.70,244.41 L112.86,256.48 L146.02,265.53 L168.12,270.36 L223.38,281.22" fill="none" stroke="#b08a28" stroke-width="1"/>
<circle cx="68.65" cy="237.16" r="1.75" fill="url(#dsph)" stroke="#8a6a18" stroke-width="0.4"/>
<circle cx="79.70" cy="244.41" r="1.75" fill="url(#dsph)" stroke="#8a6a18" stroke-width="0.4"/>
<circle cx="112.86" cy="256.48" r="1.75" fill="url(#dsph)" stroke="#8a6a18" stroke-width="0.4"/>
<circle cx="146.02" cy="265.53" r="1.75" fill="url(#dsph)" stroke="#8a6a18" stroke-width="0.4"/>
<circle cx="168.12" cy="270.36" r="1.75" fill="url(#dsph)" stroke="#8a6a18" stroke-width="0.4"/>
<circle cx="223.38" cy="281.22" r="1.75" fill="url(#dsph)" stroke="#8a6a18" stroke-width="0.4"/>
<text x="221.50" y="295.00" font-size="8" text-anchor="middle" fill="#b89030" >59.8 %</text>
<rect x="57.6" y="226.3" width="179.6" height="120.69999999999999" fill="none" stroke="#3a3a3a" stroke-width="1"/>
<line x1="55.1" y1="347.00" x2="57.6" y2="347.00" stroke="#3a3a3a"/>
<text x="53.00" y="350.40" font-size="9.5" text-anchor="end" fill="#222" >0</text>
<line x1="55.1" y1="322.86" x2="57.6" y2="322.86" stroke="#3a3a3a"/>
<text x="53.00" y="326.26" font-size="9.5" text-anchor="end" fill="#222" >20</text>
<line x1="55.1" y1="298.72" x2="57.6" y2="298.72" stroke="#3a3a3a"/>
<text x="53.00" y="302.12" font-size="9.5" text-anchor="end" fill="#222" >40</text>
<line x1="55.1" y1="274.58" x2="57.6" y2="274.58" stroke="#3a3a3a"/>
<text x="53.00" y="277.98" font-size="9.5" text-anchor="end" fill="#222" >60</text>
<line x1="55.1" y1="250.44" x2="57.6" y2="250.44" stroke="#3a3a3a"/>
<text x="53.00" y="253.84" font-size="9.5" text-anchor="end" fill="#222" >80</text>
<line x1="55.1" y1="226.30" x2="57.6" y2="226.30" stroke="#3a3a3a"/>
<text x="53.00" y="229.70" font-size="9.5" text-anchor="end" fill="#222" >100</text>
<line x1="56.1" y1="334.93" x2="57.6" y2="334.93" stroke="#3a3a3a"/>
<line x1="56.1" y1="310.79" x2="57.6" y2="310.79" stroke="#3a3a3a"/>
<line x1="56.1" y1="286.65" x2="57.6" y2="286.65" stroke="#3a3a3a"/>
<line x1="56.1" y1="262.51" x2="57.6" y2="262.51" stroke="#3a3a3a"/>
<line x1="56.1" y1="238.37" x2="57.6" y2="238.37" stroke="#3a3a3a"/>
<line x1="57.60" y1="347.0" x2="57.60" y2="349.5" stroke="#3a3a3a"/>
<text x="57.60" y="359.40" font-size="9.5" text-anchor="middle" fill="#222" >0.0</text>
<line x1="85.23" y1="347.0" x2="85.23" y2="349.5" stroke="#3a3a3a"/>
<text x="85.23" y="359.40" font-size="9.5" text-anchor="middle" fill="#222" >0.5</text>
<line x1="112.86" y1="347.0" x2="112.86" y2="349.5" stroke="#3a3a3a"/>
<text x="112.86" y="359.40" font-size="9.5" text-anchor="middle" fill="#222" >1.0</text>
<line x1="140.49" y1="347.0" x2="140.49" y2="349.5" stroke="#3a3a3a"/>
<text x="140.49" y="359.40" font-size="9.5" text-anchor="middle" fill="#222" >1.5</text>
<line x1="168.12" y1="347.0" x2="168.12" y2="349.5" stroke="#3a3a3a"/>
<text x="168.12" y="359.40" font-size="9.5" text-anchor="middle" fill="#222" >2.0</text>
<line x1="195.75" y1="347.0" x2="195.75" y2="349.5" stroke="#3a3a3a"/>
<text x="195.75" y="359.40" font-size="9.5" text-anchor="middle" fill="#222" >2.5</text>
<line x1="223.38" y1="347.0" x2="223.38" y2="349.5" stroke="#3a3a3a"/>
<text x="223.38" y="359.40" font-size="9.5" text-anchor="middle" fill="#222" >3.0</text>
<line x1="71.42" y1="347.0" x2="71.42" y2="348.5" stroke="#3a3a3a"/>
<line x1="99.05" y1="347.0" x2="99.05" y2="348.5" stroke="#3a3a3a"/>
<line x1="126.68" y1="347.0" x2="126.68" y2="348.5" stroke="#3a3a3a"/>
<line x1="154.31" y1="347.0" x2="154.31" y2="348.5" stroke="#3a3a3a"/>
<line x1="181.94" y1="347.0" x2="181.94" y2="348.5" stroke="#3a3a3a"/>
<line x1="209.57" y1="347.0" x2="209.57" y2="348.5" stroke="#3a3a3a"/>
<line x1="237.20" y1="347.0" x2="237.20" y2="348.5" stroke="#3a3a3a"/>
<text x="147.40" y="377.70" font-size="12.3" text-anchor="middle" fill="#222" word-spacing="0.8">Current density (A g<tspan font-size="6.89" dy="-5.17">-1</tspan><tspan dy="5.17">)</tspan></text>
<text transform="translate(30.5,286.6) rotate(-90)" font-size="12.4" text-anchor="middle" fill="#222">Specific capacitance (F g<tspan font-size="6.94" dy="-5.21">-1</tspan><tspan dy="5.21">)</tspan></text>
<defs><radialGradient id="sph" cx="0.4" cy="0.35" r="0.7"><stop offset="0" stop-color="#e8f090"/><stop offset="0.5" stop-color="#a8b030"/><stop offset="1" stop-color="#6a7410"/></radialGradient></defs>
<circle cx="311.95" cy="259.77" r="1.8" fill="url(#sph)"/>
<circle cx="316.50" cy="258.39" r="1.8" fill="url(#sph)"/>
<circle cx="321.05" cy="259.77" r="1.8" fill="url(#sph)"/>
<circle cx="325.60" cy="259.77" r="1.8" fill="url(#sph)"/>
<circle cx="330.16" cy="259.77" r="1.8" fill="url(#sph)"/>
<circle cx="334.71" cy="259.77" r="1.8" fill="url(#sph)"/>
<circle cx="339.26" cy="259.77" r="1.8" fill="url(#sph)"/>
<circle cx="343.81" cy="259.77" r="1.8" fill="url(#sph)"/>
<circle cx="348.36" cy="259.77" r="1.8" fill="url(#sph)"/>
<circle cx="352.91" cy="259.77" r="1.8" fill="url(#sph)"/>
<circle cx="357.46" cy="259.77" r="1.8" fill="url(#sph)"/>
<circle cx="362.01" cy="259.77" r="1.8" fill="url(#sph)"/>
<circle cx="366.57" cy="259.77" r="1.8" fill="url(#sph)"/>
<circle cx="371.12" cy="259.77" r="1.8" fill="url(#sph)"/>
<circle cx="375.67" cy="259.77" r="1.8" fill="url(#sph)"/>
<circle cx="380.22" cy="259.77" r="1.8" fill="url(#sph)"/>
<circle cx="384.77" cy="259.77" r="1.8" fill="url(#sph)"/>
<circle cx="389.32" cy="259.77" r="1.8" fill="url(#sph)"/>
<circle cx="393.87" cy="259.77" r="1.8" fill="url(#sph)"/>
<circle cx="398.42" cy="259.77" r="1.8" fill="url(#sph)"/>
<circle cx="402.98" cy="259.77" r="1.8" fill="url(#sph)"/>
<circle cx="407.53" cy="259.77" r="1.8" fill="url(#sph)"/>
<circle cx="412.08" cy="259.77" r="1.8" fill="url(#sph)"/>
<circle cx="416.63" cy="259.77" r="1.8" fill="url(#sph)"/>
<circle cx="421.18" cy="259.77" r="1.8" fill="url(#sph)"/>
<circle cx="425.73" cy="256.27" r="1.8" fill="url(#sph)"/>
<circle cx="430.28" cy="259.77" r="1.8" fill="url(#sph)"/>
<circle cx="434.83" cy="259.77" r="1.8" fill="url(#sph)"/>
<circle cx="439.39" cy="259.77" r="1.8" fill="url(#sph)"/>
<circle cx="443.94" cy="259.77" r="1.8" fill="url(#sph)"/>
<circle cx="448.49" cy="259.77" r="1.8" fill="url(#sph)"/>
<circle cx="453.04" cy="259.77" r="1.8" fill="url(#sph)"/>
<circle cx="457.59" cy="259.77" r="1.8" fill="url(#sph)"/>
<circle cx="462.14" cy="259.77" r="1.8" fill="url(#sph)"/>
<circle cx="466.69" cy="259.77" r="1.8" fill="url(#sph)"/>
<circle cx="471.24" cy="259.77" r="1.8" fill="url(#sph)"/>
<circle cx="475.80" cy="259.77" r="1.8" fill="url(#sph)"/>
<circle cx="480.35" cy="259.77" r="1.8" fill="url(#sph)"/>
<circle cx="484.90" cy="259.77" r="1.8" fill="url(#sph)"/>
<circle cx="489.45" cy="259.77" r="1.8" fill="url(#sph)"/>
<circle cx="494.00" cy="259.77" r="1.8" fill="url(#sph)"/>
<circle cx="498.55" cy="256.27" r="1.8" fill="url(#sph)"/>
<circle cx="503.10" cy="259.77" r="1.8" fill="url(#sph)"/>
<circle cx="507.65" cy="259.77" r="1.8" fill="url(#sph)"/>
<circle cx="512.20" cy="259.77" r="1.8" fill="url(#sph)"/>
<circle cx="516.76" cy="259.77" r="1.8" fill="url(#sph)"/>
<circle cx="521.31" cy="259.77" r="1.8" fill="url(#sph)"/>
<circle cx="525.86" cy="259.77" r="1.8" fill="url(#sph)"/>
<circle cx="530.41" cy="259.77" r="1.8" fill="url(#sph)"/>
<circle cx="534.96" cy="259.77" r="1.8" fill="url(#sph)"/>
<circle cx="539.51" cy="259.77" r="1.8" fill="url(#sph)"/>
<circle cx="544.06" cy="259.77" r="1.8" fill="url(#sph)"/>
<circle cx="548.61" cy="259.77" r="1.8" fill="url(#sph)"/>
<circle cx="553.17" cy="259.77" r="1.8" fill="url(#sph)"/>
<circle cx="557.72" cy="259.77" r="1.8" fill="url(#sph)"/>
<circle cx="562.27" cy="259.77" r="1.8" fill="url(#sph)"/>
<circle cx="566.82" cy="259.77" r="1.8" fill="url(#sph)"/>
<circle cx="571.37" cy="256.27" r="1.8" fill="url(#sph)"/>
<circle cx="575.92" cy="259.77" r="1.8" fill="url(#sph)"/>
<circle cx="580.47" cy="259.77" r="1.8" fill="url(#sph)"/>
<circle cx="585.02" cy="259.77" r="1.8" fill="url(#sph)"/>
<circle cx="589.58" cy="259.77" r="1.8" fill="url(#sph)"/>
<circle cx="594.13" cy="259.77" r="1.8" fill="url(#sph)"/>
<circle cx="598.68" cy="259.77" r="1.8" fill="url(#sph)"/>
<circle cx="603.23" cy="259.77" r="1.8" fill="url(#sph)"/>
<circle cx="607.78" cy="259.77" r="1.8" fill="url(#sph)"/>
<circle cx="612.33" cy="259.77" r="1.8" fill="url(#sph)"/>
<circle cx="616.88" cy="259.77" r="1.8" fill="url(#sph)"/>
<circle cx="621.43" cy="259.77" r="1.8" fill="url(#sph)"/>
<circle cx="625.99" cy="259.77" r="1.8" fill="url(#sph)"/>
<circle cx="630.54" cy="259.77" r="1.8" fill="url(#sph)"/>
<circle cx="635.09" cy="259.77" r="1.8" fill="url(#sph)"/>
<circle cx="639.64" cy="259.77" r="1.8" fill="url(#sph)"/>
<circle cx="644.19" cy="256.27" r="1.8" fill="url(#sph)"/>
<circle cx="648.74" cy="259.77" r="1.8" fill="url(#sph)"/>
<circle cx="653.29" cy="259.77" r="1.8" fill="url(#sph)"/>
<circle cx="657.84" cy="259.77" r="1.8" fill="url(#sph)"/>
<circle cx="662.40" cy="259.77" r="1.8" fill="url(#sph)"/>
<circle cx="666.95" cy="257.86" r="1.8" fill="url(#sph)"/>
<circle cx="671.50" cy="257.33" r="1.8" fill="url(#sph)"/>
<circle cx="676.05" cy="256.80" r="1.8" fill="url(#sph)"/>
<rect x="307.4" y="227.6" width="373.20000000000005" height="116.79999999999998" fill="none" stroke="#3a3a3a" stroke-width="1"/>
<line x1="304.9" y1="344.40" x2="307.4" y2="344.40" stroke="#3a3a3a"/>
<text x="302.60" y="347.00" font-size="9.2" text-anchor="end" fill="#222" >20</text>
<line x1="304.9" y1="323.16" x2="307.4" y2="323.16" stroke="#3a3a3a"/>
<text x="302.60" y="325.76" font-size="9.2" text-anchor="end" fill="#222" >40</text>
<line x1="304.9" y1="301.93" x2="307.4" y2="301.93" stroke="#3a3a3a"/>
<text x="302.60" y="304.53" font-size="9.2" text-anchor="end" fill="#222" >60</text>
<line x1="304.9" y1="280.69" x2="307.4" y2="280.69" stroke="#3a3a3a"/>
<text x="302.60" y="283.29" font-size="9.2" text-anchor="end" fill="#222" >80</text>
<line x1="304.9" y1="259.45" x2="307.4" y2="259.45" stroke="#3a3a3a"/>
<text x="302.60" y="262.05" font-size="9.2" text-anchor="end" fill="#222" >100</text>
<line x1="304.9" y1="238.22" x2="307.4" y2="238.22" stroke="#3a3a3a"/>
<text x="302.60" y="240.82" font-size="9.2" text-anchor="end" fill="#222" >120</text>
<line x1="305.9" y1="333.78" x2="307.4" y2="333.78" stroke="#3a3a3a"/>
<line x1="305.9" y1="312.55" x2="307.4" y2="312.55" stroke="#3a3a3a"/>
<line x1="305.9" y1="291.31" x2="307.4" y2="291.31" stroke="#3a3a3a"/>
<line x1="305.9" y1="270.07" x2="307.4" y2="270.07" stroke="#3a3a3a"/>
<line x1="305.9" y1="248.84" x2="307.4" y2="248.84" stroke="#3a3a3a"/>
<line x1="307.40" y1="344.4" x2="307.40" y2="346.9" stroke="#3a3a3a"/>
<text x="307.40" y="356.00" font-size="9.5" text-anchor="middle" fill="#222" >0</text>
<line x1="398.42" y1="344.4" x2="398.42" y2="346.9" stroke="#3a3a3a"/>
<text x="398.42" y="356.00" font-size="9.5" text-anchor="middle" fill="#222" >2000</text>
<line x1="489.45" y1="344.4" x2="489.45" y2="346.9" stroke="#3a3a3a"/>
<text x="489.45" y="356.00" font-size="9.5" text-anchor="middle" fill="#222" >4000</text>
<line x1="580.47" y1="344.4" x2="580.47" y2="346.9" stroke="#3a3a3a"/>
<text x="580.47" y="356.00" font-size="9.5" text-anchor="middle" fill="#222" >6000</text>
<line x1="671.50" y1="344.4" x2="671.50" y2="346.9" stroke="#3a3a3a"/>
<text x="671.50" y="356.00" font-size="9.5" text-anchor="middle" fill="#222" >8000</text>
<line x1="352.91" y1="344.4" x2="352.91" y2="345.9" stroke="#3a3a3a"/>
<line x1="443.94" y1="344.4" x2="443.94" y2="345.9" stroke="#3a3a3a"/>
<line x1="534.96" y1="344.4" x2="534.96" y2="345.9" stroke="#3a3a3a"/>
<line x1="625.99" y1="344.4" x2="625.99" y2="345.9" stroke="#3a3a3a"/>
<text x="493.90" y="373.50" font-size="12" text-anchor="middle" fill="#222" >Cycle number</text>
<text transform="translate(277.2,293.1) rotate(-90)" font-size="12" text-anchor="middle" fill="#222">Capacitance retention (%)</text>
</svg></body></html>
